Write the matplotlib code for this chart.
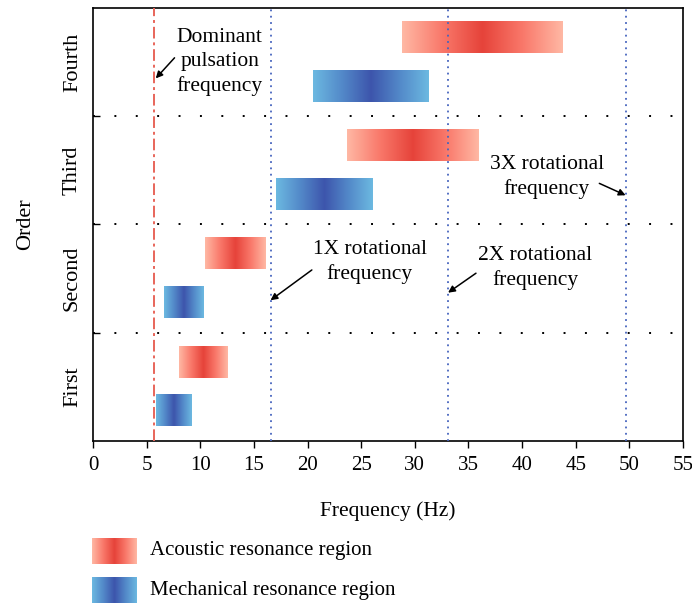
import numpy as np
import matplotlib
matplotlib.use("Agg")
import matplotlib.pyplot as plt
from matplotlib.colors import LinearSegmentedColormap

plt.rcParams['font.family'] = ['Liberation Serif', 'DejaVu Serif']

orders = ["First", "Second", "Third", "Fourth"]
acoustic_lo = [8.05, 10.45, 23.7, 28.8]
acoustic_hi = [12.6, 16.1, 36.0, 43.8]
mechanical_lo = [5.9, 6.65, 17.05, 20.5]
mechanical_hi = [9.2, 10.35, 26.0, 31.3]
pulsation_freq = 5.7
rotational_freqs = [16.55, 33.1, 49.65]
x_ticks = [0, 5, 10, 15, 20, 25, 30, 35, 40, 45, 50, 55]

acoustic_cmap = LinearSegmentedColormap.from_list(
    "acoustic", ["#FFB8A4", "#F9786A", "#E6433A", "#F9786A", "#FFB8A4"])
mechanical_cmap = LinearSegmentedColormap.from_list(
    "mechanical", ["#6CB9E1", "#5389C9", "#3D55AC", "#5389C9", "#6CB9E1"])
grad = np.linspace(0, 1, 256).reshape(1, -1)

fig = plt.figure(figsize=(6.92, 6.03), dpi=100)
ax = fig.add_axes([0.1344, 0.2687, 0.8526, 0.718])

bar_h = 0.29
for i in range(len(orders)):
    ac = i + 0.73
    mc = i + 0.28
    ax.imshow(grad, cmap=acoustic_cmap, aspect='auto', interpolation='bilinear',
              extent=[acoustic_lo[i], acoustic_hi[i], ac - bar_h / 2, ac + bar_h / 2], zorder=2)
    ax.imshow(grad, cmap=mechanical_cmap, aspect='auto', interpolation='bilinear',
              extent=[mechanical_lo[i], mechanical_hi[i], mc - bar_h / 2, mc + bar_h / 2], zorder=2)

for b in [1, 2, 3]:
    ax.axhline(b, color='black', lw=1.4, linestyle=(0, (1, 10)), zorder=1)

ax.axvline(pulsation_freq, color='#E8655A', lw=1.4, linestyle=(0, (6, 2, 1.5, 2)), zorder=3)
for f in rotational_freqs:
    ax.axvline(f, color='#4664BE', lw=1.3, linestyle=(0, (1, 2.5)), zorder=3)

ax.set_xlim(0, 55)
ax.set_ylim(0, 4)
ax.set_xticks(x_ticks)
ax.set_xticklabels([str(t) for t in x_ticks])
ax.tick_params(axis='x', direction='out', length=5, width=1, labelsize=15, pad=6)
ax.set_yticks([1, 2, 3])
ax.set_yticklabels([])
ax.tick_params(axis='y', direction='in', length=5, width=1)
ax.set_yticks([0.5, 1.5, 2.5, 3.5], minor=True)
ax.set_yticklabels(orders, minor=True, rotation=90, va='center', fontsize=16)
ax.tick_params(axis='y', which='minor', length=0, pad=8)
for s in ax.spines.values():
    s.set_linewidth(1.2)

ax.set_xlabel("Frequency (Hz)", fontsize=15.5, labelpad=19)
ax.set_ylabel("Order", fontsize=16, labelpad=20)

arrow = dict(arrowstyle='-|>', color='black', lw=1.1, mutation_scale=10, shrinkA=0, shrinkB=0)
fs_ann = 15.5
ls_ann = 1.35
ax.annotate("", xy=(5.85, 3.35), xytext=(7.6, 3.54), arrowprops=arrow)
ax.text(11.8, 3.5, "Dominant\npulsation\nfrequency", ha='center', va='center',
        fontsize=fs_ann, linespacing=ls_ann)
ax.annotate("", xy=(16.55, 1.30), xytext=(20.4, 1.58), arrowprops=arrow)
ax.text(25.8, 1.65, "1X rotational\nfrequency", ha='center', va='center',
        fontsize=fs_ann, linespacing=ls_ann)
ax.annotate("", xy=(33.1, 1.37), xytext=(35.7, 1.55), arrowprops=arrow)
ax.text(41.2, 1.6, "2X rotational\nfrequency", ha='center', va='center',
        fontsize=fs_ann, linespacing=ls_ann)
ax.annotate("", xy=(49.65, 2.27), xytext=(47.2, 2.38), arrowprops=arrow)
ax.text(42.3, 2.44, "3X rotational\nfrequency", ha='center', va='center',
        fontsize=fs_ann, linespacing=ls_ann)

# legend drawn with gradient swatches
W, H = 692, 603
legend_items = [("Acoustic resonance region", acoustic_cmap, 538),
                ("Mechanical resonance region", mechanical_cmap, 577)]
for label, cmap, top in legend_items:
    sw = fig.add_axes([92 / W, 1 - (top + 26) / H, 45 / W, 26 / H])
    sw.imshow(grad, cmap=cmap, aspect='auto', interpolation='bilinear')
    sw.axis('off')
    fig.text(150 / W, 1 - (top + 13) / H, label, ha='left', va='center', fontsize=15)

fig.savefig("out.png", dpi=100)
